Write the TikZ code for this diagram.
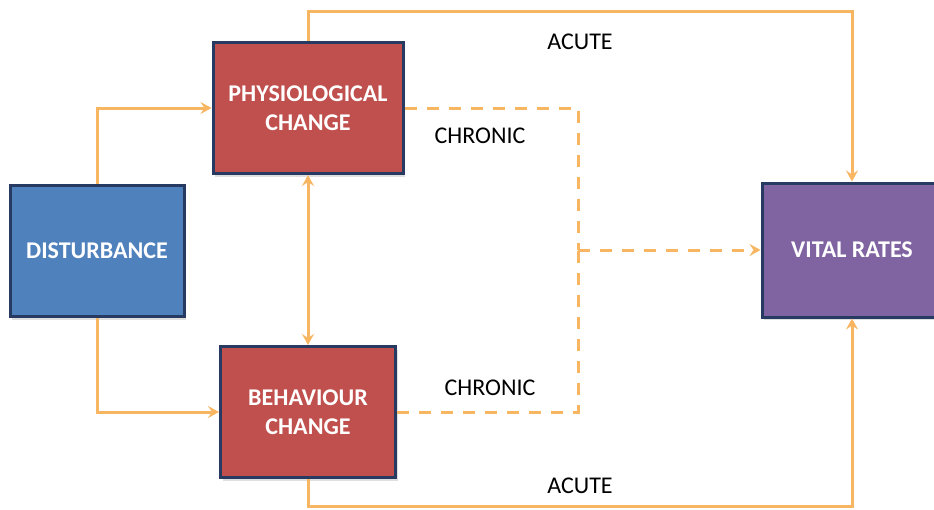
\documentclass[tikz,border=0pt]{standalone}
\usepackage{fontspec}
\setmainfont{Carlito}
\usepackage{tikz}
\usetikzlibrary{arrows.meta,positioning,shadows}

\definecolor{linkc}{RGB}{248,182,98}
\definecolor{edgec}{RGB}{38,58,98}
\definecolor{bluec}{RGB}{79,129,189}
\definecolor{redc}{RGB}{192,80,77}
\definecolor{purplec}{RGB}{128,100,162}

\begin{document}
\begin{tikzpicture}[x=1pt,y=-1pt,>={Stealth[length=11pt,width=12pt,inset=4pt]},
	                    line width=3pt]
	  \tikzstyle{box}=[draw=edgec,line width=3pt,text=white,align=center,
	                   minimum height=131pt,font=\fontsize{24}{29}\selectfont\bfseries,
	                   drop shadow={opacity=0.25,shadow xshift=2pt,shadow yshift=-3pt}]
	  \tikzstyle{link}=[draw=linkc,line width=3pt]
	  \tikzstyle{slow}=[link,dash pattern=on 12pt off 10pt]
	  \tikzstyle{tag}=[font=\fontsize{24}{28}\selectfont,text=black]

	  \useasboundingbox[fill=white] (0,0) rectangle (934,509);

	  \node[box,fill=bluec,minimum width=174pt]   (D) at (97,251)  {DISTURBANCE};
	  \node[box,fill=redc,minimum width=190pt]    (P) at (308,108) {PHYSIOLOGICAL\\CHANGE};
	  \node[box,fill=redc,minimum width=175pt]    (B) at (308,412) {BEHAVIOUR\\CHANGE};
	  \node[box,fill=purplec,minimum width=180pt,minimum height=134pt] (V) at (852,250) {VITAL RATES};
	  \coordinate (J) at (578,250);

	  \draw[link,->] (D.north) |- (P.west);
	  \draw[link,->] (D.south) |- (B.west);
	  \draw[link,<->] (P.south) -- (B.north);
	  \draw[link,->] (P.north) -- ++(0,-30) -| (V.north);
	  \draw[link,->] (B.south) -- ++(0,27) -| (V.south);
	  \draw[slow] (P.east) -| (J);
	  \draw[slow] (B.east) -| (J);
	  \draw[slow,->] (J) -- (V.west);

	  \node[tag] (a1) at (580,42)  {ACUTE};
	  \node[tag] (a2) at (580,486) {ACUTE};
	  \node[tag] (c1) at (480,136) {CHRONIC};
	  \node[tag] (c2) at (490,388) {CHRONIC};
	\end{tikzpicture}
\end{document}
